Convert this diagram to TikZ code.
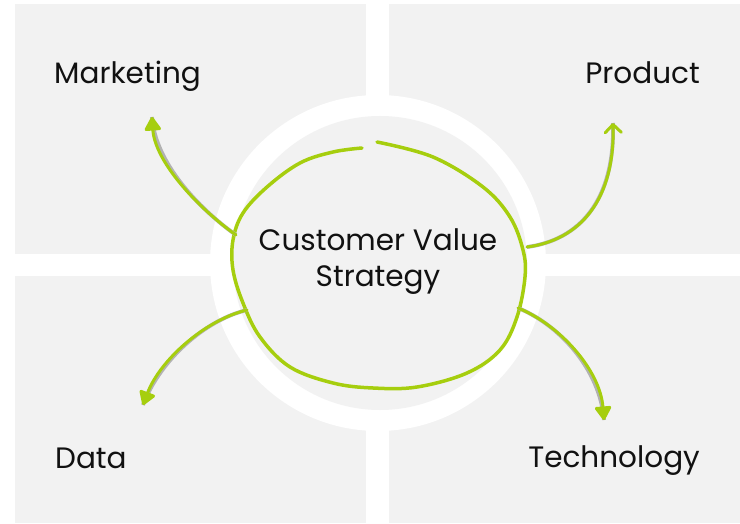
\documentclass[tikz,border=0pt]{standalone}
\usepackage{fontspec}
\setmainfont{Poppins}
\usetikzlibrary{arrows.meta}
\definecolor{panel}{RGB}{242,242,242}
\definecolor{leaf}{RGB}{166,206,14}
\definecolor{ink}{RGB}{17,17,17}
\tikzset{
  panelbox/.style={fill=panel, draw=none},
  label/.style={font=\fontsize{29.5}{36}\selectfont, text=ink, inner sep=0pt},
  loopline/.style={draw=leaf, line width=3.5pt, line cap=round, line join=round},
  branch/.style={draw=leaf, line width=3pt, line cap=round,
    preaction={draw=black!30, line width=3.8pt, arrows=-}},
  tri/.style={-{Triangle[length=15pt,width=18pt,round]}},
  barb/.style={-{Straight Barb[length=8pt,width=16pt,line width=3pt,round]}}
}
\begin{document}
\begin{tikzpicture}[x=1pt,y=-1pt]
\useasboundingbox (0,0) rectangle (740,524);
% four quadrant panels
\fill[panelbox] (15,4) rectangle (366,254);
\fill[panelbox] (389,4) rectangle (740,254);
\fill[panelbox] (15,276) rectangle (366,523);
\fill[panelbox] (389,276) rectangle (740,523);
% white ring around the centre
\fill[white] (378,263) circle[radius=168];
\fill[panel] (380,263) circle[radius=147];

% hand-drawn loop with a small opening at the top
\draw[loopline] plot[smooth, tension=0.6] coordinates {
  (377,142) (433,157) (483,187) (510,217) (523,250) (525,277) (517,317)
  (500,350) (467,373) (417,387) (373,388) (333,383) (290,367) (260,337)
  (243,303) (233,270) (233,240) (243,213) (267,187) (300,163) (333,152)
  (362,148)};

% labels
\node[label, align=center] (core) at (378,262) {Customer Value\\Strategy};
\node[label, anchor=base west] (mkt) at (54,84) {Marketing};
\node[label, anchor=base east] (prd) at (700,84) {Product};
\node[label, anchor=base west] (dat) at (55,468) {Data};
\node[label, anchor=base east] (tec) at (700,467) {Technology};

% where branches leave the loop and where their tips land
\coordinate (mktFrom) at (236,235);
\coordinate (mktTo) at (152,117);
\coordinate (prdFrom) at (527,247);
\coordinate (prdTo) at (613,123);
\coordinate (datFrom) at (247,310);
\coordinate (datTo) at (143,405);
\coordinate (tecFrom) at (518,308);
\coordinate (tecTo) at (604,420);

\draw[branch, tri] (mktFrom) .. controls (198,208) and (155,162) .. (mktTo);
\draw[branch, barb] (prdFrom) .. controls (580,240) and (615,200) .. (prdTo);
\draw[branch, tri] (datFrom) .. controls (205,320) and (160,360) .. (datTo);
\draw[branch, tri] (tecFrom) .. controls (560,325) and (600,370) .. (tecTo);
\end{tikzpicture}
\end{document}
